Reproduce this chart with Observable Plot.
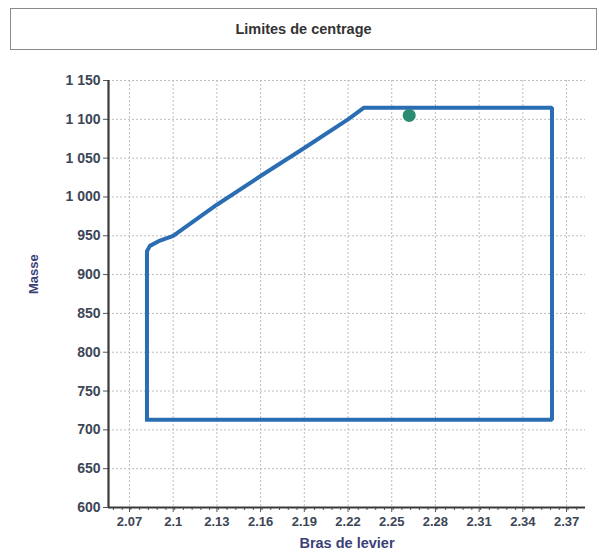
<!DOCTYPE html>
<html>
<head>
<meta charset="utf-8">
<script src="https://cdn.jsdelivr.net/npm/d3@7"></script>
<script src="https://cdn.jsdelivr.net/npm/@observablehq/plot@0.6"></script>
<style>
  html, body { margin: 0; padding: 0; background: #fff; }
  body { width: 599px; height: 557px; overflow: hidden; font-family: "Liberation Sans", Arial, sans-serif; }
  #title {
    box-sizing: border-box;
    margin: 8px 2px 0 10px;
    height: 42px;
    border: 1px solid #8a8a8a;
    display: flex; align-items: center; justify-content: center;
    font-weight: bold; font-size: 14.5px; color: #333;
  }
  #chart svg { display: block; }
</style>
</head>
<body>
<div id="title">Limites de centrage</div>
<div id="chart"></div>
<script>
// Envelope (centrage limits): lever arm (m) and mass (kg)
const envelopeArm  = [2.082, 2.082, 2.084, 2.090, 2.100, 2.130, 2.160, 2.190, 2.220, 2.231, 2.360, 2.360, 2.082];
const envelopeMass = [713,   930,   937,   943,   950,   990,   1027,  1063,  1100,  1115,  1115,  713,   713];
// Current loading point
const pointArm  = [2.262];
const pointMass = [1105];
// Axis ticks
const xTicks = [2.07, 2.10, 2.13, 2.16, 2.19, 2.22, 2.25, 2.28, 2.31, 2.34, 2.37];
const yTicks = [600, 650, 700, 750, 800, 850, 900, 950, 1000, 1050, 1100, 1150];
const xDomain = [2.0556, 2.383];
const yDomain = [600, 1150];

const envelope = envelopeArm.map((x, i) => ({x, y: envelopeMass[i]}));
const point = pointArm.map((x, i) => ({x, y: pointMass[i]}));
const xMinor = d3.range(Math.round((xDomain[0] + 0.003) * 1000), Math.round(xDomain[1] * 1000), 6)
  .map(v => v / 1000).filter(v => !xTicks.some(t => Math.abs(t - v) < 1e-6));

const fmtX = d => String(+d.toFixed(2));
const fmtY = d => String(d).replace(/\B(?=(\d{3})+$)/, " ");
const tickColor = "#3c4656";
const labelColor = "#3b3f78";

const chart = Plot.plot({
  width: 599,
  height: 507,
  marginLeft: 108,
  marginRight: 14,
  marginTop: 30,
  marginBottom: 50,
  style: { fontFamily: "'Liberation Sans', Arial, sans-serif", background: "#fff" },
  x: { domain: xDomain, label: null },
  y: { domain: yDomain, label: null },
  marks: [
    Plot.gridX(xTicks, { stroke: "#bdbdbd", strokeOpacity: 1, strokeDasharray: "2,2" }),
    Plot.gridY(yTicks, { stroke: "#bdbdbd", strokeOpacity: 1, strokeDasharray: "2,2" }),
    Plot.axisX(xMinor, { tickSize: 3, tickFormat: () => "", label: null, stroke: "#555" }),
    Plot.axisX(xTicks, { tickSize: 5, tickPadding: 4, tickFormat: fmtX, label: null, stroke: "#555",
      fill: tickColor, fontSize: 13, fontWeight: "bold" }),
    Plot.axisY(yTicks, { tickSize: 5, tickPadding: 3, tickFormat: fmtY, label: null, stroke: "#555",
      fill: tickColor, fontSize: 14, fontWeight: "bold" }),
    Plot.ruleX([xDomain[0]], { stroke: "#3a3a3a", strokeWidth: 2.2 }),
    Plot.ruleY([yDomain[0]], { stroke: "#3a3a3a", strokeWidth: 2.2 }),
    Plot.line(envelope, { x: "x", y: "y", stroke: "#2a6db3", strokeWidth: 4, strokeLinejoin: "miter", strokeLinecap: "square", curve: "linear" }),
    Plot.dot(point, { x: "x", y: "y", r: 6.5, fill: "#2b8a72", stroke: "none" }),
    Plot.text(["Bras de levier"], { frameAnchor: "bottom", dy: 40, fontSize: 14.5, fontWeight: "bold", fill: labelColor }),
    Plot.text(["Masse"], { frameAnchor: "left", dx: -75, rotate: -90, fontSize: 13, fontWeight: "bold", fill: labelColor })
  ]
});
document.getElementById("chart").appendChild(chart);
</script>
</body>
</html>
